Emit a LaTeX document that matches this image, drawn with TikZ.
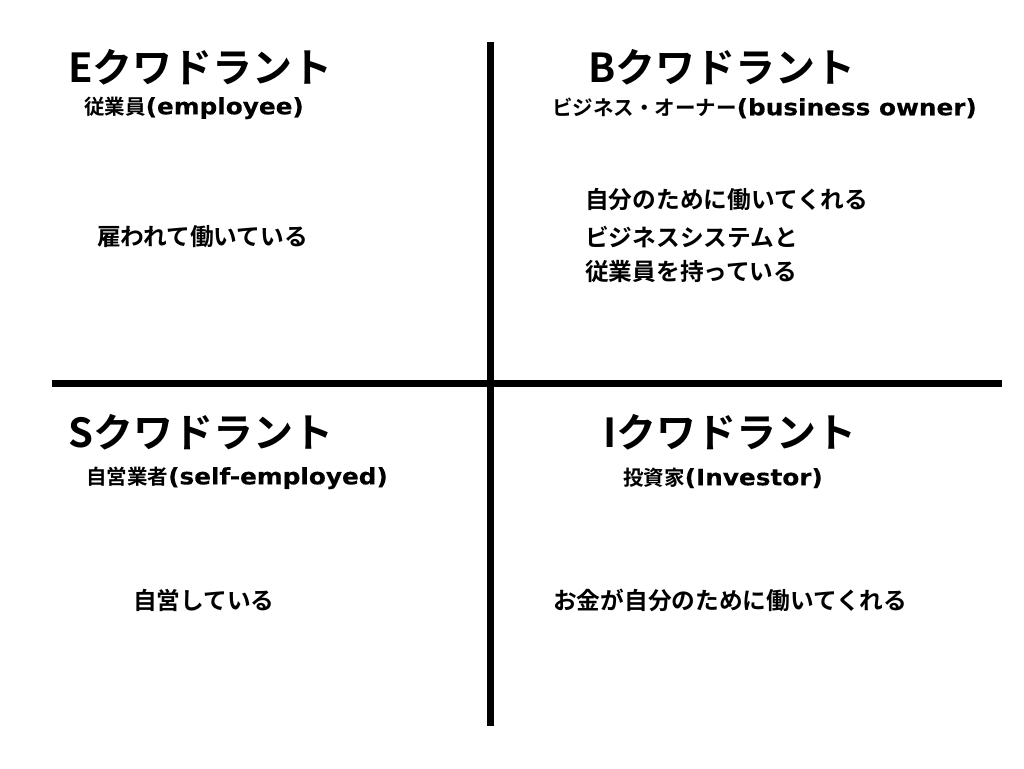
\documentclass[tikz,border=0pt]{standalone}
\usepackage{fontspec}
\setmainfont{Noto Sans CJK JP}[BoldFont={* Bold}]
\newfontfamily\latsub{DejaVu Sans}[FakeStretch=1.1,FakeBold=0.3]
\newcommand{\lt}[1]{{\latsub\fontsize{22.5}{22.5}\selectfont #1}}
\begin{document}
\begin{tikzpicture}[x=1pt,y=-1pt,
  head/.style={anchor=west,inner sep=0pt,font=\fontsize{40}{40}\selectfont\bfseries},
  sub/.style={anchor=west,inner sep=0pt,font=\fontsize{20.5}{20.5}\selectfont\bfseries},
  body/.style={anchor=west,inner sep=0pt,font=\fontsize{23.7}{23.7}\selectfont\bfseries},
  axis/.style={line width=7pt,black}]
\useasboundingbox[fill=white] (0,0) rectangle (1024,768);
\coordinate (vt) at (490,42);
\coordinate (vb) at (490,726);
\coordinate (hl) at (52,383);
\coordinate (hr) at (1002,383);
\draw[axis] (vt) -- (vb);
\draw[axis] (hl) -- (hr);
\node[head] (eh) at (68,67) {Eクワドラント};
\node[sub] (es) at (84,108) {従業員\lt{(employee)}};
\node[body] (eb) at (97,237) {雇われて働いている};
\node[head] (bh) at (588,67) {Bクワドラント};
\node[sub] (bs) at (552,108) {ビジネス・オーナー\lt{(business owner)}};
\node[body] (bb1) at (585,200) {自分のために働いてくれる};
\node[body] (bb2) at (585,237) {ビジネスシステムと};
\node[body] (bb3) at (585,272) {従業員を持っている};
\node[head] (sh) at (68,432) {Sクワドラント};
\node[sub] (ss) at (86,478) {自営業者\lt{(self-employed)}};
\node[body] (sb) at (133,600) {自営している};
\node[head] (ih) at (603,432) {Iクワドラント};
\node[sub] (is) at (623,478) {投資家\lt{(Investor)}};
\node[body] (ib) at (553,600) {お金が自分のために働いてくれる};
\end{tikzpicture}
\end{document}
